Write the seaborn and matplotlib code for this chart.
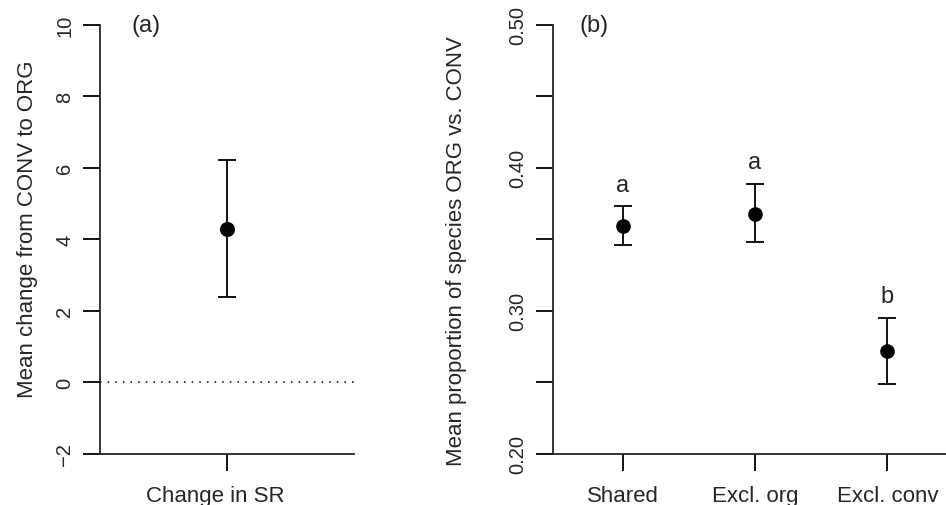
import numpy as np
import pandas as pd
import matplotlib
matplotlib.use("Agg")
import matplotlib.pyplot as plt
import matplotlib.transforms as mtransforms
import seaborn as sns

# ---- data (panel a) ----
sr_label = ["Change in SR"]
sr_mean = [4.3]
sr_lower = [2.38]
sr_upper = [6.21]
a_yticks = [-2, 0, 2, 4, 6, 8, 10]
a_yticklabels = ["\u22122", "0", "2", "4", "6", "8", "10"]

# ---- data (panel b) ----
groups = ["Shared", "Excl. org", "Excl. conv"]
prop_mean = [0.359, 0.368, 0.272]
prop_lower = [0.346, 0.348, 0.249]
prop_upper = [0.373, 0.389, 0.295]
sig_letters = ["a", "a", "b"]
b_yticks = [0.20, 0.25, 0.30, 0.35, 0.40, 0.45, 0.50]
b_yticklabels = ["0.20", "", "0.30", "", "0.40", "", "0.50"]

sns.set_theme(style="ticks")
plt.rcParams["font.family"] = ["Liberation Sans", "DejaVu Sans"]
plt.rcParams["axes.linewidth"] = 1.3

W, H = 946, 506
fig = plt.figure(figsize=(W / 100, H / 100), dpi=100)
top_px, bot_px = 25.7, 455.0
axA = fig.add_axes([100 / W, (H - bot_px) / H, 254 / W, (bot_px - top_px) / H])
axB = fig.add_axes([553 / W, (H - bot_px) / H, 404 / W, (bot_px - top_px) / H])

TICK_FS = 14.5
LAB_FS = 16
LW = 1.3

def style(ax):
    sns.despine(ax=ax)
    ax.spines["left"].set_linewidth(LW)
    ax.spines["bottom"].set_linewidth(LW)
    ax.tick_params(axis="both", length=12, width=LW, color="black")
    ax.tick_params(axis="y", labelrotation=90, labelsize=TICK_FS, pad=6.5)
    ax.tick_params(axis="x", labelsize=LAB_FS, pad=10)
    for lab in ax.get_yticklabels():
        lab.set_va("center")
    ax.set_xlabel("")
    ax.set_facecolor("white")

# ---- panel a ----
dfA = pd.DataFrame({"cat": sr_label, "mean": sr_mean})
axA.axhline(0, color="black", lw=1.1, linestyle=(0, (1, 4)), zorder=1)
posA = np.arange(len(sr_label))
axA.errorbar(posA, sr_mean,
             yerr=[np.array(sr_mean) - np.array(sr_lower), np.array(sr_upper) - np.array(sr_mean)],
             fmt="none", ecolor="black", elinewidth=LW, capsize=6.3, capthick=LW, zorder=2)
sns.pointplot(data=dfA, x="cat", y="mean", ax=axA, color="black", linestyle="none",
              errorbar=None, markers="o", markersize=8.8, zorder=3)
axA.set_xlim(-0.5, 0.5)
axA.set_ylim(-2, 10)
axA.set_yticks(a_yticks)
axA.set_yticklabels(a_yticklabels)
axA.set_ylabel("Mean change from CONV to ORG", fontsize=LAB_FS)
style(axA)
axA.yaxis.set_label_coords(-0.244, 0.526)
shift = mtransforms.ScaledTranslation(-12 / 100, 0, fig.dpi_scale_trans)
for lab in axA.get_xticklabels():
    lab.set_transform(lab.get_transform() + shift)
axA.text(-0.319, 10, "(a)", ha="center", va="center", fontsize=17, clip_on=False)

# ---- panel b ----
dfB = pd.DataFrame({"group": groups, "mean": prop_mean})
posB = np.arange(len(groups))
axB.errorbar(posB, prop_mean,
             yerr=[np.array(prop_mean) - np.array(prop_lower), np.array(prop_upper) - np.array(prop_mean)],
             fmt="none", ecolor="black", elinewidth=LW, capsize=6.3, capthick=LW, zorder=2)
sns.pointplot(data=dfB, x="group", y="mean", ax=axB, color="black", linestyle="none",
              errorbar=None, markers="o", markersize=8.5, zorder=3)
axB.set_xlim(-0.526, 2.526)
axB.set_ylim(0.20, 0.50)
axB.set_yticks(b_yticks)
axB.set_yticklabels(b_yticklabels)
axB.set_ylabel("Mean proportion of species ORG vs. CONV", fontsize=LAB_FS)
style(axB)
axB.yaxis.set_label_coords(-0.213, 0.475)
for x, up, letter in zip(posB, prop_upper, sig_letters):
    axB.text(x, up + 0.011, letter, ha="center", va="baseline", fontsize=17)
axB.text(-0.214, 0.50, "(b)", ha="center", va="center", fontsize=17, clip_on=False)

fig.savefig("out.png", dpi=100, facecolor="white")
